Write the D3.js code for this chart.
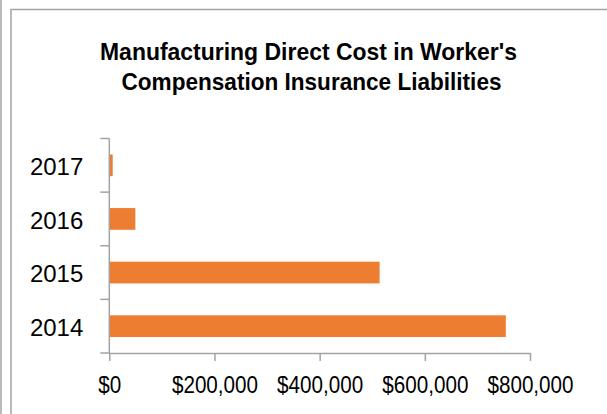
<!DOCTYPE html>
<html>
<head>
    <title>Manufacturing Direct Cost</title>
    <script src="https://d3js.org/d3.v7.min.js"></script>
    <style>
        body { margin: 0; background: #fff; }
    </style>
</head>
<body>
    <script>
        // data
        var years = ["2017", "2016", "2015", "2014"];
        var costs = [6500, 49500, 514000, 754000];
        var xTicks = [0, 200000, 400000, 600000, 800000];
        var titleLines = ["Manufacturing Direct Cost in Worker's", "Compensation Insurance Liabilities"];

        var width = 607, height = 414;
        var font = "'Liberation Sans', Arial, sans-serif";
        var grey = "#a3a3a3";

        var svg = d3.select("body")
            .append("svg")
            .attr("width", width)
            .attr("height", height);

        // frame lines like the spreadsheet screenshot
        svg.append("line")
            .attr("x1", 1).attr("x2", 1).attr("y1", 0).attr("y2", height)
            .attr("stroke", grey).attr("stroke-width", 1.5);
        svg.append("path")
            .attr("d", "M11," + height + "V9.5H" + width)
            .attr("fill", "none").attr("stroke", grey).attr("stroke-width", 1.5);

        // title
        var titleY = [60, 90];
        var titleW = [417, 380];
        var titleX = [308.5, 311.5];
        titleLines.forEach(function(t, i) {
            svg.append("text")
                .attr("x", titleX[i])
                .attr("y", titleY[i])
                .attr("text-anchor", "middle")
                .attr("textLength", titleW[i])
                .attr("lengthAdjust", "spacingAndGlyphs")
                .style("font-family", font)
                .style("font-weight", "bold")
                .style("font-size", "24px")
                .text(t);
        });

        var x = d3.scaleLinear()
            .domain([0, 800000])
            .range([109.3, 530]);

        var y = d3.scaleBand()
            .domain(years)
            .range([138.5, 353])
            .paddingInner(0.595)
            .paddingOuter(0.2975);

        // bars
        svg.selectAll("rect.bar")
            .data(years)
            .enter()
            .append("rect")
            .attr("class", "bar")
            .attr("x", x(0))
            .attr("y", function(d) { return y(d); })
            .attr("width", function(d, i) { return x(costs[i]) - x(0); })
            .attr("height", y.bandwidth())
            .attr("fill", "#ed7d31");

        // x axis
        var xAxis = svg.append("g")
            .attr("transform", "translate(0,353)")
            .call(d3.axisBottom(x)
                .tickValues(xTicks)
                .tickSize(8)
                .tickSizeOuter(0)
                .tickPadding(15)
                .tickFormat(function(d) { return "$" + d3.format(",")(d); }));
        xAxis.select(".domain").attr("stroke", grey).attr("stroke-width", 1.5);
        xAxis.selectAll(".tick line").attr("stroke", grey).attr("stroke-width", 1.5);
        xAxis.selectAll("text")
            .style("font-family", font)
            .style("font-size", "24px")
            .attr("fill", "#000")
            .each(function() {
                // calibri-like narrow digits
                var w = this.getComputedTextLength();
                d3.select(this)
                    .attr("textLength", w * 0.86)
                    .attr("lengthAdjust", "spacingAndGlyphs");
            });

        // y axis: labels centred in bands, ticks on band boundaries
        var yAxis = svg.append("g")
            .attr("transform", "translate(109.3,0)")
            .call(d3.axisLeft(y).tickSize(0).tickPadding(26));
        yAxis.select(".domain").remove();
        yAxis.selectAll("text")
            .attr("dy", "0.4em")
            .style("font-family", font)
            .style("font-size", "24px")
            .attr("fill", "#000");

        var step = y.step();
        var bounds = d3.range(years.length + 1).map(function(i) { return 138.5 + i * step; });
        svg.append("line")
            .attr("x1", x(0)).attr("x2", x(0))
            .attr("y1", 138.5).attr("y2", 353)
            .attr("stroke", grey).attr("stroke-width", 1.5);
        svg.selectAll("line.ytick")
            .data(bounds)
            .enter()
            .append("line")
            .attr("class", "ytick")
            .attr("x1", x(0) - 9).attr("x2", x(0))
            .attr("y1", function(d) { return d; })
            .attr("y2", function(d) { return d; })
            .attr("stroke", grey).attr("stroke-width", 1.5);
    </script>
</body>
</html>
